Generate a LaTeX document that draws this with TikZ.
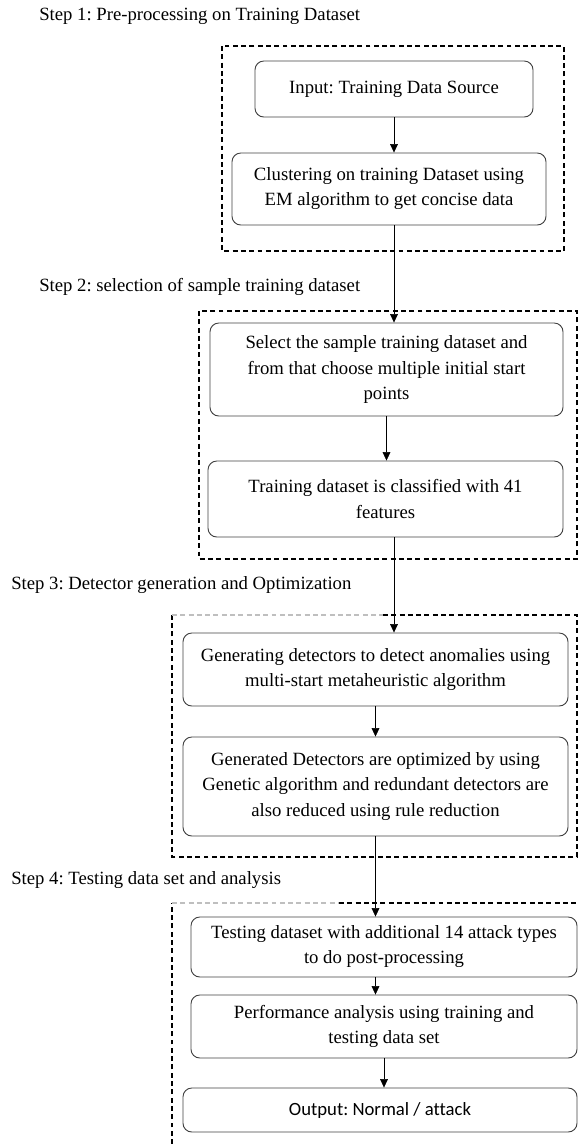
\documentclass[tikz,border=0pt]{standalone}
\usepackage{fontspec}
\setmainfont{Liberation Serif}
\newfontfamily\outfont[Ligatures=NoCommon]{Carlito}
\usetikzlibrary{positioning,calc,arrows.meta}
\frenchspacing

\begin{document}
\begin{tikzpicture}[
    stepbox/.style={draw=black!75, line width=0.65pt, rectangle, rounded corners=2.2mm,
        align=center, inner sep=0pt, font=\fontsize{13.3pt}{17.8pt}\selectfont},
    steplabel/.style={anchor=west, inner sep=0pt, font=\fontsize{13.3pt}{17.8pt}\selectfont},
    frame/.style={draw, dashed, line width=0.8pt, dash pattern=on 3.5pt off 2.4pt},
    >={Triangle[length=6pt,width=5.5pt]}
]

\useasboundingbox (0,0) rectangle (14.45,-28.6);

% Step labels
\node[steplabel] (s1) at (0.975,-0.4) {Step 1: Pre-processing on Training Dataset};
\node[steplabel] (s2) at (0.975,-7.17) {Step 2: selection of sample training dataset};
\node[steplabel] (s3) at (0.275,-14.62) {Step 3: Detector generation and Optimization};
\node[steplabel] (s4) at (0.275,-22.0) {Step 4: Testing data set and analysis};

% Main nodes
\node[stepbox, minimum width=6.95cm, minimum height=1.4cm] (input) at (9.85,-2.225)
    {Input: Training Data Source};
\node[stepbox, minimum width=7.85cm, minimum height=1.8cm] (clust) at (9.725,-4.725)
    {Clustering on training Dataset using\\EM algorithm to get concise data};

\node[stepbox, minimum width=8.825cm, minimum height=2.325cm] (select) at (9.6625,-9.2375)
    {Select the sample training dataset and\\from that choose multiple initial start\\points};
\node[stepbox, minimum width=8.875cm, minimum height=1.9cm] (train) at (9.6375,-12.475)
    {Training dataset is classified with 41\\features};

\node[stepbox, minimum width=9.625cm, minimum height=1.825cm] (gen) at (9.3875,-16.7375)
    {Generating detectors to detect anomalies using\\multi-start metaheuristic algorithm};
\node[stepbox, minimum width=9.625cm, minimum height=2.475cm] (optim) at (9.3875,-19.6625)
    {Generated Detectors are optimized by using\\Genetic algorithm and redundant detectors are\\also reduced using rule reduction};

\node[stepbox, minimum width=9.65cm, minimum height=1.5cm] (test) at (9.6,-23.675)
    {Testing dataset with additional 14 attack types\\to do post-processing};
\node[stepbox, minimum width=9.65cm, minimum height=1.575cm] (perf) at (9.6,-25.6625)
    {Performance analysis using training and\\testing data set};
\node[stepbox, minimum width=9.85cm, minimum height=1.1cm, font=\fontsize{13.3pt}{16pt}\outfont] (output) at (9.5,-27.75)
    {Output: Normal / attack};

% Dashed step frames
\draw[frame] (5.55,-1.15) rectangle (14.1,-6.275);
\draw[frame] (4.975,-7.775) rectangle (14.425,-13.975);
\draw[frame] (9.575,-15.375) -| (14.425,-21.425) -| (4.3,-15.375);
\draw[frame, draw=black!25] (4.3,-15.375) -- (9.575,-15.375);
\draw[frame] (4.3,-28.6) -- (4.3,-22.575);
\draw[frame, draw=black!25] (4.3,-22.575) -- (8.475,-22.575);
\draw[frame] (8.475,-22.575) -- (14.45,-22.575);

% Flow
\draw[->] (input.south) -- (input.south |- clust.north);
\draw[->] (input.south |- clust.south) -- (input.south |- select.north);
\draw[->] (select.south) -- (select.south |- train.north);
\draw[->] (input.south |- train.south) -- (input.south |- gen.north);
\draw[->] (gen.south) -- (optim.north);
\draw[->] (optim.south) -- (optim.south |- test.north);
\draw[->] (optim.south |- test.south) -- (optim.south |- perf.north);
\draw[->] (perf.south) -- (perf.south |- output.north);

\end{tikzpicture}
\end{document}
